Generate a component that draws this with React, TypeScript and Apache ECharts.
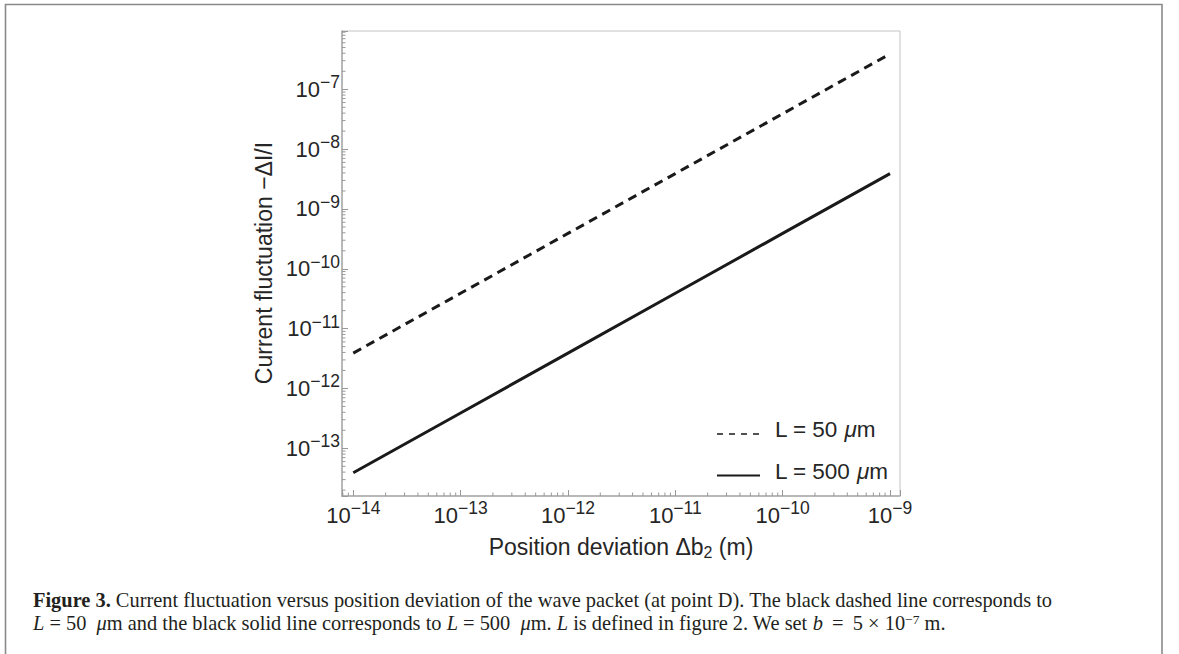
import React, { useEffect, useRef } from 'react';
import * as echarts from 'echarts';

// ---- data ----
const deviation = [1e-14, 1e-13, 1e-12, 1e-11, 1e-10, 1e-9];
const fluctuationL50 = [3.9e-12, 3.9e-11, 3.9e-10, 3.9e-9, 3.9e-8, 3.9e-7];
const fluctuationL500 = [3.9e-14, 3.9e-13, 3.9e-12, 3.9e-11, 3.9e-10, 3.9e-9];
const seriesNames = ['L = 50 μm', 'L = 500 μm'];
const xExponentRange = [-14.105, -8.907];
const yExponentRange = [-13.797, -6.026];
const minorMantissas = [2, 3, 4, 5, 6, 7, 8, 9];
const yTitle = 'Current fluctuation −ΔI/I';
const captionLine1 =
  '{bf|Figure 3.} Current fluctuation versus position deviation of the wave packet (at point D). The black dashed line corresponds to';
const captionLine2 =
  '{it|L} = 50  {it|μ}m and the black solid line corresponds to {it|L} = 500  {it|μ}m. {it|L} is defined in figure {bl|2}. We set {it|b} \u2009=\u2009 5 × 10{sup|−7} m.';

const SANS = '"Liberation Sans", Arial, Helvetica, sans-serif';
const SERIF = '"Liberation Serif", "Times New Roman", serif';
const TEXT = '#262626';
const CAP = '#231f20';
const CAP_SIZE = 20.4;

const X_MIN = Math.pow(10, xExponentRange[0]);
const X_MAX = Math.pow(10, xExponentRange[1]);
const Y_MIN = Math.pow(10, yExponentRange[0]);
const Y_MAX = Math.pow(10, yExponentRange[1]);

function minorTicks(range: number[]): number[] {
  const out: number[] = [];
  for (let k = Math.floor(range[0]); k <= Math.ceil(range[1]); k++) {
    for (const m of minorMantissas) {
      const v = Number((m * Math.pow(10, k)).toPrecision(12));
      const e = Math.log10(v);
      if (e > range[0] && e < range[1]) out.push(v);
    }
  }
  return out;
}

const xMinor = minorTicks(xExponentRange);
const yMinor = minorTicks(yExponentRange);

function powLabel(v: number): string {
  const e = Math.log10(v);
  const r = Math.round(e);
  if (Math.abs(e - r) > 1e-6) return '';
  return `{b|10}{s|${r < 0 ? '−' : ''}${Math.abs(r)}}`;
}

const labelRich = {
  b: { fontSize: 22, lineHeight: 32, fontFamily: SANS, color: TEXT },
  s: { fontSize: 17.5, lineHeight: 17.5, verticalAlign: 'top', fontFamily: SANS, color: TEXT },
};

const legendRich = {
  n: { fontSize: 22.5, lineHeight: 24, verticalAlign: 'top', fontFamily: SANS, color: TEXT },
  i: { fontSize: 22.5, lineHeight: 24, verticalAlign: 'top', fontFamily: SANS, fontStyle: 'italic', color: TEXT },
  z: { fontSize: 2, lineHeight: 32, fontFamily: SANS, color: TEXT },
};

export default function App() {
  const ref = useRef<HTMLDivElement>(null);

  useEffect(() => {
    if (!ref.current) return;
    const chart = echarts.init(ref.current, undefined, { renderer: 'svg' });

    const option: any = {
      animation: false,
      backgroundColor: '#ffffff',
      grid: {
        left: 342,
        top: 31,
        width: 558,
        height: 465,
        show: true,
        borderColor: '#c4c4c4',
        borderWidth: 1,
        backgroundColor: 'transparent',
      },
      xAxis: {
        type: 'log',
        logBase: 10,
        min: X_MIN,
        max: X_MAX,
        splitNumber: 5,
        axisLine: { show: true, lineStyle: { color: '#aaaaaa', width: 1.5 } },
        axisTick: { show: true, inside: true, length: 6, lineStyle: { color: '#999999', width: 1 } },
        minorTick: { show: false },
        splitLine: { show: false },
        axisLabel: { margin: 3, formatter: powLabel, rich: labelRich },
      },
      yAxis: {
        type: 'log',
        logBase: 10,
        min: Y_MIN,
        max: Y_MAX,
        splitNumber: 5,
        axisLine: { show: true, lineStyle: { color: '#aaaaaa', width: 1.5 } },
        axisTick: { show: true, inside: true, length: 6, lineStyle: { color: '#999999', width: 1 } },
        minorTick: { show: false },
        splitLine: { show: false },
        axisLabel: { margin: 2, formatter: powLabel, rich: labelRich },
      },
      legend: {
        orient: 'vertical',
        left: 716,
        top: 418,
        padding: 0,
        itemWidth: 43,
        itemHeight: 24,
        itemGap: 16,
        selectedMode: false,
        itemStyle: { opacity: 0, color: 'transparent', borderWidth: 0 },
        data: [
          {
            name: seriesNames[0],
            lineStyle: { width: 1.6, type: [6, 6], color: '#1a1a1a' },
            itemStyle: { opacity: 0, color: 'transparent', borderWidth: 0 },
          },
          {
            name: seriesNames[1],
            lineStyle: { width: 2, type: 'solid', color: '#1a1a1a' },
            itemStyle: { opacity: 0, color: 'transparent', borderWidth: 0 },
          },
        ],
        formatter: (name: string) => {
          const [head] = name.split('μ');
          return `{n|${head}}{i|μ}{n|m}{z| }`;
        },
        textStyle: {
          fontSize: 22.5,
          fontFamily: SANS,
          color: TEXT,
          padding: [0, 0, 0, 10],
          rich: legendRich,
        },
      },
      series: [
        {
          type: 'line',
          name: seriesNames[0],
          data: deviation.map((x, i) => [x, fluctuationL50[i]]),
          symbol: 'none',
          lineStyle: { color: '#1a1a1a', width: 3, type: [9, 6], cap: 'butt' },
          itemStyle: { color: '#1a1a1a' },
          z: 3,
        },
        {
          type: 'line',
          name: seriesNames[1],
          data: deviation.map((x, i) => [x, fluctuationL500[i]]),
          symbol: 'none',
          lineStyle: { color: '#1a1a1a', width: 3, type: 'solid' },
          itemStyle: { color: '#1a1a1a' },
          z: 3,
        },
        {
          type: 'custom',
          name: 'xMinorTicks',
          silent: true,
          clip: false,
          data: xMinor.map((v) => [v, Y_MIN]),
          renderItem: (_p: any, api: any) => {
            const pt = api.coord([api.value(0), Y_MIN]);
            return {
              type: 'line',
              shape: { x1: pt[0], y1: pt[1], x2: pt[0], y2: pt[1] - 3.5 },
              style: { stroke: '#999999', lineWidth: 1 },
            };
          },
          z: 2,
        },
        {
          type: 'custom',
          name: 'yMinorTicks',
          silent: true,
          clip: false,
          data: yMinor.map((v) => [X_MIN, v]),
          renderItem: (_p: any, api: any) => {
            const pt = api.coord([X_MIN, api.value(1)]);
            return {
              type: 'line',
              shape: { x1: pt[0], y1: pt[1], x2: pt[0] + 3.5, y2: pt[1] },
              style: { stroke: '#999999', lineWidth: 1 },
            };
          },
          z: 2,
        },
      ],
      graphic: [
        {
          type: 'rect',
          z: -10,
          shape: { x: 5.5, y: 4.5, width: 1156.5, height: 720 },
          style: { fill: 'none', stroke: '#8a8a8a', lineWidth: 1.6 },
        },
        {
          type: 'text',
          x: 264,
          y: 263,
          rotation: Math.PI / 2,
          style: {
            text: yTitle,
            fontSize: 23,
            fontFamily: SANS,
            fill: TEXT,
            align: 'center',
            verticalAlign: 'middle',
          },
        },
        {
          type: 'text',
          x: 621,
          y: 547,
          style: {
            text: '{n|Position deviation Δb}{sub|2}{n| (m)}',
            fontSize: 23,
            fontFamily: SANS,
            fill: TEXT,
            align: 'center',
            verticalAlign: 'middle',
            rich: {
              n: { fontSize: 23, lineHeight: 27, fontFamily: SANS, color: TEXT },
              sub: { fontSize: 16, lineHeight: 15, verticalAlign: 'bottom', fontFamily: SANS, color: TEXT },
            },
          },
        },
        {
          type: 'text',
          x: 33,
          y: 600,
          style: {
            text: captionLine1,
            fontSize: CAP_SIZE,
            lineHeight: 20,
            fontFamily: SERIF,
            fill: CAP,
            align: 'left',
            verticalAlign: 'middle',
            rich: {
              bf: { fontSize: CAP_SIZE, lineHeight: 20, fontFamily: SERIF, fontWeight: 'bold', color: CAP },
            },
          },
        },
        {
          type: 'text',
          x: 33,
          y: 623,
          style: {
            text: captionLine2,
            fontSize: CAP_SIZE,
            lineHeight: 22,
            fontFamily: SERIF,
            fill: CAP,
            align: 'left',
            verticalAlign: 'middle',
            rich: {
              it: { fontSize: CAP_SIZE, lineHeight: 22, fontFamily: SERIF, fontStyle: 'italic', color: CAP },
              bl: { fontSize: CAP_SIZE, lineHeight: 22, fontFamily: SERIF, color: '#2a7ab8' },
              sup: { fontSize: 13.5, lineHeight: 10, verticalAlign: 'top', fontFamily: SERIF, color: CAP },
            },
          },
        },
      ],
    };

    chart.setOption(option);
    return () => chart.dispose();
  }, []);

  return (
    <div
      ref={ref}
      style={{ position: 'fixed', left: 0, top: 0, width: 1179, height: 654, background: '#fff' }}
    />
  );
}
